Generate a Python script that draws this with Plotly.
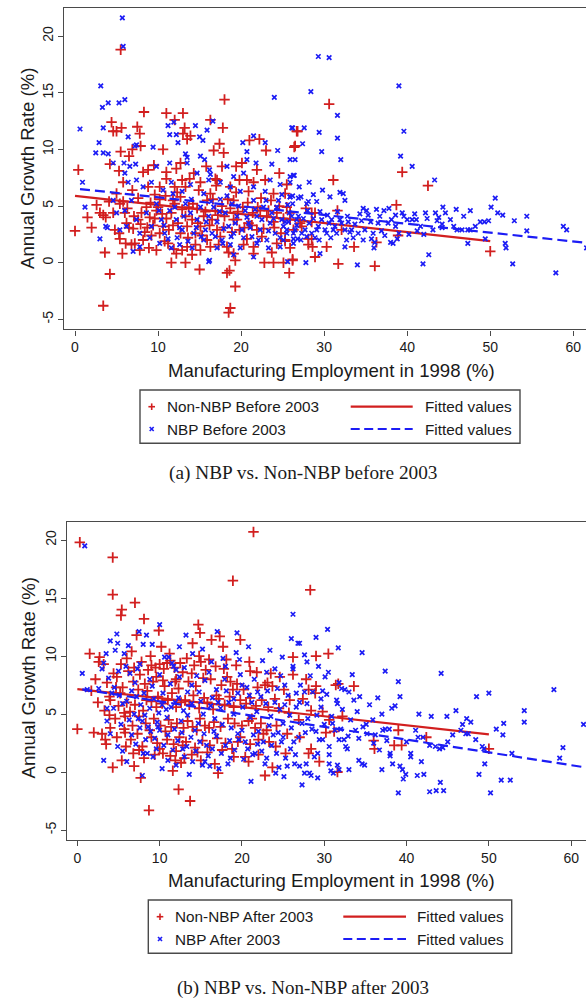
import plotly.graph_objects as go

# ---------------- data ----------------
# Panel (a): before 2003   (x = manufacturing employment 1998 %, y = annual growth %)
nonnbp_before = [
    (0.0, 2.8), (0.4, 8.2), (1.5, 4.0), (2.0, 3.1), (2.6, 5.1), (3.6, 0.9), (4.2, -1.0), (3.4, -3.8),
    (4.4, 12.4), (4.6, 11.6), (5.0, 11.6), (5.5, 18.8), (5.6, 11.9), (4.2, 8.7), (5.3, 8.1), (5.5, 9.8),
    (5.7, 0.8), (5.8, 7.1), (6.5, 9.4), (6.9, 10.0), (7.5, 12.0), (7.8, 11.4), (7.9, 10.3), (8.3, 13.3),
    (8.8, 8.2), (9.5, 8.6), (10.6, 10.0), (11.0, 13.2), (11.0, 8.0), (12.0, 12.6), (13.0, 13.2), (13.2, 11.9),
    (13.0, 11.4), (13.5, 10.9), (13.9, 11.2), (12.7, 8.8), (12.2, 8.3), (12.9, 7.3), (13.8, 7.4), (16.3, 12.6),
    (16.7, 9.9), (17.4, 10.5), (17.9, 9.7), (17.7, 8.5), (18.0, 14.4), (17.8, 11.9), (16.9, 7.4), (17.1, 7.3),
    (19.4, 8.5), (19.8, 7.3), (20.1, 8.8), (21.0, 10.8), (22.2, 10.9), (23.0, 9.9), (21.5, 7.1), (22.9, 7.3),
    (24.6, 7.9), (25.3, 6.1), (25.5, 6.9), (26.4, 10.2), (26.7, 11.6),
    (11.6, 0.0), (13.3, 0.0), (15.0, -0.6), (12.9, 1.1), (11.9, 1.2), (10.8, 1.9), (9.8, 1.1), (7.8, 1.1),
    (8.9, 1.3), (7.2, 1.7), (6.1, 1.7), (5.4, 2.1), (18.3, -0.9), (18.6, -0.7), (19.3, -2.1), (19.3, 0.2),
    (19.1, 0.8), (18.5, 0.9), (22.8, 0.0), (23.9, 0.0), (25.1, 0.0), (25.8, -0.9), (26.2, 0.2), (23.7, 0.9),
    (21.5, 1.4), (20.7, 2.1), (16.3, 1.4), (15.1, 1.1), (14.1, 0.7), (18.5, -4.4), (18.7, -4.0),
    (30.6, 14.0), (26.8, 11.6), (26.5, 10.3), (31.1, 7.3), (39.4, 8.0), (42.5, 6.8), (38.7, 5.1), (31.6, 4.6),
    (38.9, 2.4), (50.0, 1.0), (36.1, -0.3), (31.7, -0.1), (26.2, 0.3), (33.6, 1.4), (30.3, 1.4), (28.9, 0.5),
    (28.6, 1.4), (28.1, 1.6), (28.1, 2.1), (28.5, 2.1), (25.3, 1.9), (26.3, 2.9), (27.1, 3.5), (27.3, 3.2),
    (28.5, 3.6), (28.9, 4.4), (28.5, 4.4), (32.1, 2.9), (36.3, 1.8), (25.9, 4.4), (25.1, 3.9),
    (3.0, 4.4), (3.4, 4.2), (3.7, 4.0), (4.1, 5.4), (5.4, 5.2), (5.8, 5.4), (4.8, 2.9), (5.3, 2.6),
    (6.2, 3.5), (6.5, 3.1), (7.0, 3.0), (7.6, 3.8), (8.0, 4.4), (8.6, 4.9), (9.1, 5.3), (9.8, 4.6),
    (10.2, 2.6), (10.6, 3.2), (11.0, 3.9), (11.6, 4.4), (12.0, 5.2), (12.7, 5.8), (13.3, 6.7), (13.7, 4.9),
    (14.1, 3.8), (13.5, 3.2), (12.7, 2.6), (14.5, 2.6), (15.1, 3.2), (15.5, 4.1), (15.9, 5.5), (16.3, 6.1),
    (16.9, 4.6), (17.1, 2.9), (17.5, 2.3), (18.0, 4.1), (18.7, 4.8), (19.1, 5.5), (19.5, 3.8), (19.8, 2.9),
    (20.2, 4.9), (20.9, 6.3), (21.4, 4.4), (21.9, 2.9), (22.5, 2.3), (23.1, 4.1), (23.6, 5.5), (24.3, 4.4),
    (24.8, 2.6), (25.3, 2.0), (25.9, 3.8),
    (8.2, 8.0), (8.8, 6.7), (10.2, 6.7), (11.0, 7.4), (12.0, 6.7), (14.3, 7.9), (15.1, 7.1), (15.8, 8.5),
    (18.7, 6.7), (20.7, 7.3), (21.9, 8.2), (23.9, 6.1), (25.5, 4.9), (10.2, 5.6), (9.6, 6.0), (6.9, 6.4),
    (7.6, 5.7), (6.0, 4.4), (4.6, 4.4), (5.0, 6.1),
    (6.8, 1.6), (8.2, 2.0), (9.2, 2.4), (11.2, 1.7), (12.2, 0.8), (13.5, 1.4), (14.5, 1.6), (15.9, 2.0),
    (17.3, 1.6), (18.3, 1.4), (20.3, 1.6), (21.5, 0.8), (24.3, 1.7), (25.9, 1.3),
    (9.6, 3.9), (11.8, 3.3), (13.3, 4.1), (14.7, 4.8), (16.5, 3.8), (17.7, 5.0), (19.1, 3.8), (20.9, 3.5),
    (22.3, 4.6), (23.9, 3.6),
    (6.3, 4.8), (7.1, 4.1), (7.9, 3.4), (8.4, 2.7), (9.0, 4.0), (9.4, 3.3), (10.0, 4.9), (10.5, 4.3),
    (11.3, 2.9), (11.8, 5.5), (12.4, 3.5), (12.9, 4.7), (13.6, 2.2), (14.2, 5.2), (14.8, 3.5), (15.3, 2.4),
    (15.7, 4.5), (16.2, 3.3), (16.6, 5.6), (17.2, 4.2), (17.9, 3.1), (18.4, 5.6), (18.9, 2.7), (19.6, 4.5),
    (20.4, 3.1), (20.8, 5.3), (21.3, 3.3), (22.0, 4.9), (22.7, 3.0), (23.3, 4.6), (24.0, 3.1), (24.6, 5.0),
    (12.3, 6.2), (14.9, 6.4), (17.0, 6.8), (19.4, 6.2), (22.4, 5.7), (10.9, 5.9), (8.7, 3.1), (27.8, 4.8),
]

nbp_before = [
    (0.6, 11.8), (0.9, 7.1), (1.2, 4.9), (3.1, 15.6), (3.3, 13.7), (3.4, 11.9), (2.9, 10.6), (2.5, 9.7),
    (3.4, 9.7), (4.0, 9.6), (4.0, 14.1), (5.3, 14.1), (6.0, 14.4), (5.7, 21.6), (5.8, 19.1), (4.6, 8.8),
    (6.4, 11.1), (7.2, 10.3), (7.4, 10.4), (5.9, 8.8), (6.0, 7.9), (6.6, 8.5), (7.3, 8.7), (7.4, 7.3),
    (6.4, 7.1), (9.4, 10.2), (11.2, 12.1), (11.9, 12.4), (11.4, 11.3), (12.2, 11.3), (12.4, 10.6), (11.4, 8.8),
    (13.3, 9.6), (13.5, 9.3), (14.5, 12.1), (15.0, 11.1), (15.4, 10.8), (15.9, 11.7), (16.6, 12.5), (16.2, 8.2),
    (16.3, 7.8), (15.6, 9.1), (20.2, 10.6), (20.7, 9.8), (21.8, 8.8), (21.5, 11.2), (22.9, 10.6), (24.0, 14.6),
    (24.4, 9.9), (23.7, 8.7), (24.7, 6.9), (25.9, 5.8), (26.2, 11.9), (26.3, 7.7), (26.5, 9.1), (26.9, 5.7),
    (16.1, 0.1), (11.6, 1.3), (7.0, 1.0), (16.2, 0.2), (25.6, 0.1),
    (3.0, 2.1), (3.7, 3.2), (3.9, 3.1), (4.6, 5.5), (5.0, 4.4), (5.4, 2.9), (6.0, 4.6), (6.2, 3.2),
    (6.8, 5.5), (7.4, 3.8), (7.8, 2.6), (8.6, 4.4), (9.2, 3.2), (9.8, 5.2), (10.4, 3.8), (10.8, 2.6),
    (11.4, 4.6), (11.8, 6.1), (12.2, 3.8), (12.9, 2.9), (13.3, 5.2), (13.9, 4.4), (14.3, 2.6), (14.7, 3.8),
    (15.1, 4.9), (15.5, 6.1), (15.7, 2.9), (16.1, 4.1), (16.5, 2.6), (16.7, 4.9), (17.1, 3.6), (17.5, 5.6),
    (17.7, 2.0), (18.1, 4.4), (18.5, 3.2), (18.9, 5.2), (19.1, 2.6), (19.5, 4.1), (19.9, 6.3), (20.1, 2.9),
    (20.5, 4.6), (20.9, 3.5), (21.3, 2.3), (21.5, 5.5), (21.9, 4.1), (22.3, 2.9), (22.7, 4.9), (23.1, 2.0),
    (23.5, 3.5), (23.7, 4.4), (24.1, 2.6), (24.5, 5.5), (24.9, 3.8), (25.1, 2.0), (25.5, 2.9), (25.8, 4.4),
    (26.3, 2.6), (26.7, 3.8),
    (8.2, 6.7), (9.2, 7.1), (10.6, 6.4), (11.6, 7.1), (12.9, 6.3), (13.9, 6.9), (14.7, 7.9), (16.1, 7.3),
    (17.5, 7.1), (18.7, 6.7), (19.1, 7.6), (20.3, 7.9), (21.5, 6.7), (22.9, 6.3), (23.5, 7.3), (24.9, 6.0),
    (9.8, 8.5), (13.5, 8.8), (15.1, 9.4), (18.3, 8.5), (20.7, 9.1),
    (7.8, 1.4), (10.2, 1.7), (12.6, 1.6), (14.1, 1.3), (15.5, 2.0), (17.1, 1.3), (18.7, 1.6), (19.9, 1.3),
    (21.9, 1.7), (23.3, 1.3), (24.7, 1.4), (26.3, 1.7), (19.1, 0.7), (21.5, 0.5),
    (29.3, 18.2), (30.6, 18.1), (28.4, 15.1), (31.6, 13.0), (31.6, 11.0), (32.0, 9.1), (26.1, 11.9), (27.6, 11.9),
    (29.4, 11.5), (27.4, 10.5), (29.7, 9.8), (25.9, 9.1), (26.4, 7.7), (28.2, 7.1), (27.0, 6.7), (29.8, 6.4),
    (25.9, 5.8), (26.2, 5.9), (27.9, 5.2), (28.1, 5.4), (29.1, 5.4), (31.9, 6.2), (32.3, 6.1), (26.2, 5.2),
    (39.0, 15.6), (39.6, 11.6), (39.2, 9.4), (40.6, 8.5), (43.3, 7.3), (50.6, 5.7), (50.1, 4.9), (50.9, 4.4),
    (51.5, 4.2), (47.6, 4.6), (48.8, 3.6), (49.3, 3.6), (49.8, 3.7), (44.3, 4.9), (44.6, 4.4), (45.9, 4.7),
    (42.2, 4.4), (42.4, 3.9), (43.4, 4.4), (43.6, 3.7), (44.2, 3.4), (41.1, 3.8), (40.6, 3.8), (40.0, 3.8),
    (39.4, 4.4), (39.6, 4.1), (37.8, 4.8), (37.2, 4.6), (38.6, 4.2), (52.9, 3.7), (54.4, 4.1), (54.4, 2.8),
    (58.8, 3.2), (59.2, 2.9), (61.6, 1.3), (51.8, 1.7), (51.9, 1.3), (52.7, -0.1), (57.9, -0.9), (42.6, 0.7),
    (41.9, -0.1), (34.0, -0.2), (27.8, 0.0), (29.5, 0.8), (41.2, 2.8), (42.0, 2.5), (45.6, 3.2), (46.6, 2.9),
    (47.3, 2.9), (47.6, 2.9), (47.3, 1.7), (49.4, 2.1), (46.0, 2.9), (44.2, 3.1), (43.1, 2.9), (38.0, 1.8),
    (38.3, 1.7), (38.8, 2.1), (36.1, 1.8), (36.0, 1.3), (34.7, 2.0), (33.1, 2.7), (32.5, 1.4), (34.7, 4.8),
    (35.1, 4.6), (34.3, 4.3), (35.3, 4.2), (36.5, 3.5), (36.9, 2.8), (33.7, 3.4), (33.3, 2.9), (30.3, 2.6),
    (30.8, 2.2), (31.1, 2.9), (29.1, 2.9), (28.5, 2.6), (27.9, 2.3), (27.3, 2.6), (26.5, 2.9), (25.5, 2.6),
    (25.1, 3.2), (25.7, 3.6), (26.7, 3.3), (26.9, 4.1), (27.7, 2.9), (28.2, 3.5), (28.7, 3.9), (29.3, 3.2),
    (29.7, 3.8), (30.1, 2.9), (30.6, 3.5), (31.3, 3.2), (31.5, 2.6), (31.9, 3.8), (32.5, 2.9), (32.9, 3.6),
    (27.2, 2.0), (29.4, 2.0), (26.3, 2.1), (32.7, 2.0), (34.1, 2.6), (34.9, 2.9), (35.6, 3.6), (36.7, 4.1),
    (37.7, 3.5), (38.6, 3.2), (35.9, 2.6), (25.9, 7.1), (28.7, 6.0), (30.7, 5.8), (32.5, 5.5), (25.9, 7.6),
    (27.2, 5.8),
    (9.0, 2.2), (10.1, 4.6), (10.7, 3.3), (11.2, 2.1), (12.0, 4.9), (12.6, 3.1), (13.1, 4.1), (13.6, 1.9),
    (14.0, 5.6), (14.6, 3.1), (15.2, 2.3), (15.8, 3.6), (16.4, 5.4), (16.9, 2.3), (17.4, 4.5), (17.9, 3.0),
    (18.3, 5.9), (18.8, 2.3), (19.3, 3.5), (19.7, 5.0), (20.3, 2.2), (20.7, 4.0), (21.1, 3.1), (21.7, 4.7),
    (22.1, 2.0), (22.5, 3.8), (23.0, 5.5), (23.3, 2.8), (23.9, 3.9), (24.3, 4.9), (24.7, 2.2), (25.3, 3.6),
    (25.6, 5.1), (26.1, 4.1), (26.8, 2.1), (27.5, 3.9), (28.0, 4.6), (28.9, 2.2), (29.5, 4.5), (30.4, 4.2),
    (30.9, 3.8), (31.6, 4.5), (32.1, 3.5), (32.8, 4.1), (33.5, 2.2), (34.5, 3.7), (35.7, 2.1), (36.3, 4.7),
    (37.3, 2.4), (38.1, 3.8), (39.0, 2.6), (40.2, 2.5), (40.9, 4.3), (41.6, 3.2), (43.8, 4.0), (45.2, 3.8),
    (46.8, 4.1), (48.2, 3.2), (12.3, 2.2), (17.8, 1.7),
]

# Panel (b): after 2003
nonnbp_after = [
    (0.0, 3.7), (0.3, 19.8), (1.5, 10.2), (2.0, 3.4), (2.7, 9.9), (2.6, 9.5), (3.2, 9.3), (3.4, 2.8),
    (3.5, 2.4), (3.6, 7.7), (4.0, 6.2), (3.9, 6.5), (4.3, 18.5), (4.3, 15.3), (4.3, 0.4), (4.4, 8.5),
    (4.8, 8.2), (5.0, 5.7), (5.3, 13.5), (5.4, 14.0), (5.4, 1.0), (5.7, 5.1), (5.8, 4.8), (5.7, 3.7),
    (5.8, 3.4), (6.2, 8.7), (6.6, 10.4), (7.0, 14.6), (6.8, 7.8), (6.5, 2.8), (6.9, 0.5), (7.2, 11.8),
    (7.4, 7.1), (7.7, -0.5), (7.8, 9.5), (7.9, 2.2), (8.1, 13.2), (8.4, 6.2), (8.6, 8.8), (8.7, -3.3),
    (8.8, 3.6), (9.6, 5.6), (9.9, 12.2), (10.2, 10.8), (10.4, 1.6), (10.9, 9.4), (11.1, 4.5), (11.6, 0.1),
    (11.9, 1.0), (12.3, -1.5), (12.5, 9.4), (12.8, 2.3), (13.1, 6.2), (13.7, -2.5), (14.0, 11.1), (14.5, 3.6),
    (14.7, 12.7), (14.9, 12.0), (14.8, 10.0), (15.4, 6.4), (16.3, 11.4), (17.1, -0.1), (17.3, 11.7), (17.7, 10.8),
    (18.1, 9.7), (18.9, 16.5), (18.9, 7.1), (19.4, 7.6), (19.8, 11.4), (19.8, 3.0), (20.4, 1.3), (21.4, 20.7),
    (21.0, 8.7), (21.8, 8.6), (21.2, 4.6), (22.8, -0.3), (22.8, 7.5), (23.1, 7.7), (23.7, 0.4), (23.7, 7.4),
    (24.6, 8.2), (25.1, 7.1), (26.2, 9.9), (26.2, 8.4), (25.5, 3.3), (25.3, 1.6), (24.1, 2.2),
    (28.3, 15.7), (29.0, 10.0), (30.5, 10.2), (28.1, 7.1), (28.9, 6.8), (29.0, 7.4), (31.4, 7.5), (31.7, 7.6),
    (33.6, 7.4), (28.4, 5.3), (32.2, 4.8), (25.7, 5.1), (30.2, 3.4), (31.2, 3.5), (28.4, 2.0), (28.1, 1.6),
    (29.4, 0.9), (31.6, 0.0), (36.0, 2.7), (36.1, 2.0), (38.5, 2.3), (39.4, 2.3), (39.0, 3.6), (42.4, 3.0),
    (50.0, 2.0),
    (9.0, 9.2), (9.5, 9.0), (10.0, 9.3), (10.5, 8.9), (11.3, 9.6), (11.8, 9.0), (12.0, 8.0), (9.2, 7.8),
    (10.6, 7.4), (11.5, 6.8), (12.3, 7.2), (13.5, 7.8), (13.9, 8.5), (14.2, 9.2), (15.0, 9.5), (15.6, 8.8),
    (16.2, 8.0), (16.8, 9.1), (17.5, 7.5), (18.2, 8.2), (9.0, 6.1), (9.8, 6.5), (10.3, 5.9), (11.0, 6.2),
    (12.0, 5.6), (12.6, 6.0), (13.6, 5.8), (14.1, 6.6), (14.8, 5.5), (15.8, 6.0), (16.5, 5.4), (17.2, 6.3),
    (17.9, 5.8), (18.5, 6.5), (19.0, 5.6), (19.8, 6.2), (20.5, 5.9), (21.0, 6.4), (21.7, 5.7), (22.4, 6.2),
    (23.2, 5.6), (24.0, 6.3), (9.3, 4.6), (10.1, 4.0), (10.7, 3.5), (11.4, 3.9), (12.1, 4.2), (12.9, 3.8),
    (13.4, 4.4), (14.0, 3.9), (14.9, 4.6), (15.5, 4.0), (16.0, 3.8), (16.6, 4.3), (17.4, 3.9), (18.3, 4.6),
    (19.1, 4.2), (20.0, 4.0), (20.8, 4.4), (21.6, 3.8), (22.3, 4.2), (23.0, 3.6), (24.2, 4.0), (9.7, 2.5),
    (10.9, 2.8), (11.7, 2.4), (12.4, 3.0), (13.2, 2.6), (14.3, 2.1), (15.2, 2.7), (16.1, 2.3), (17.0, 2.9),
    (18.0, 2.5), (18.8, 2.0), (19.5, 2.6), (21.0, 2.4), (22.0, 2.8), (23.3, 2.6), (6.0, 6.0), (6.4, 5.2),
    (7.0, 5.8), (7.5, 4.8), (8.0, 5.3), (8.3, 4.2), (7.3, 3.3), (6.7, 4.0), (5.2, 6.8), (4.6, 4.6),
    (4.0, 3.8), (3.3, 5.3), (2.5, 6.0), (1.7, 7.0), (2.2, 8.0), (5.5, 7.3), (8.5, 7.0), (9.0, 3.0),
    (13.0, 1.2), (15.0, 1.0), (16.7, 0.7), (14.6, 1.7), (12.0, 1.8), (20.8, 0.9), (22.0, 1.5), (24.5, 5.5),
    (25.8, 6.2), (26.9, 4.5), (27.4, 6.3), (27.0, 3.0), (29.8, 5.2), (30.6, 4.5), (27.8, 8.0),
    (3.9, 4.9), (4.7, 7.3), (5.3, 9.3), (6.0, 9.8), (6.9, 9.0), (7.6, 8.4), (8.2, 7.6), (8.9, 10.0),
    (9.6, 8.2), (10.4, 7.9), (11.2, 10.2), (11.9, 7.8), (12.8, 8.6), (13.3, 9.8), (14.4, 7.4), (15.3, 8.1),
    (16.0, 9.7), (16.9, 6.6), (17.8, 8.9), (18.6, 7.8), (19.3, 9.2), (20.2, 7.1), (20.9, 9.5), (21.9, 7.3),
    (23.5, 8.5), (5.9, 2.2), (6.8, 1.6), (7.5, 1.9), (8.1, 1.2), (9.4, 1.5), (10.0, 2.0), (11.3, 1.4),
    (12.6, 0.8), (13.9, 1.5), (15.8, 1.7), (17.6, 1.9), (19.0, 1.3), (4.8, 3.0), (3.0, 3.3), (22.6, 3.3),
]

nbp_after = [
    (0.9, 19.5), (0.6, 8.5), (1.2, 7.1), (2.6, 7.2), (3.2, 9.4), (3.5, 10.2), (3.2, 1.0), (4.0, 11.3),
    (4.8, 11.9), (4.9, 11.1), (4.6, 10.5), (5.7, 10.2), (5.9, 9.1), (3.6, 5.5), (3.6, 4.4), (4.0, 3.3),
    (4.9, 2.2), (6.4, 8.5), (7.0, 7.7), (7.5, 12.1), (7.3, 8.9), (8.0, 11.0), (8.4, 11.8), (9.1, 11.0),
    (10.0, 12.7), (7.9, -0.3), (8.0, 1.6), (8.5, 1.6), (9.2, 1.3), (9.6, 2.0), (10.6, 9.9), (11.1, 9.9),
    (11.5, 9.4), (11.7, 9.1), (12.4, 10.8), (13.2, 11.8), (14.0, 10.2), (13.6, -0.2), (15.2, 0.6), (16.1, 0.5),
    (17.0, 12.1), (17.7, 9.8), (19.4, 12.0), (19.7, 9.7), (19.8, 8.4), (21.1, -0.8), (21.6, 1.6), (22.8, 0.7),
    (24.1, -0.1), (24.5, 0.4), (25.1, -0.4), (24.0, 8.9), (24.7, 8.3), (26.2, 13.6), (26.2, 9.1), (26.8, 11.1),
    (30.4, 12.3), (29.0, 11.6), (27.0, 11.1), (31.7, 10.7), (34.6, 10.3), (27.6, 10.1), (27.9, 9.5), (29.3, 9.1),
    (26.2, 8.9), (30.5, 8.6), (30.1, 8.2), (33.4, 8.4), (37.4, 8.7), (44.2, 8.5), (39.0, 7.8), (39.2, 6.5),
    (38.6, 5.7), (38.2, 5.5), (31.8, 7.7), (32.1, 7.2), (32.5, 7.1), (29.8, 7.0), (27.6, 6.9), (28.6, 6.9),
    (33.6, 6.2), (31.5, 6.2), (31.6, 5.9), (29.6, 6.3), (27.0, 6.0), (27.9, 5.9), (48.5, 6.5), (50.0, 6.8),
    (57.9, 7.1), (54.3, 5.3), (54.3, 4.3), (51.8, 4.2), (50.9, 3.7), (51.7, 3.2), (46.8, 4.1), (47.3, 4.6),
    (47.8, 4.3), (44.9, 4.8), (45.6, 3.2), (44.0, 2.0), (44.4, 2.1), (43.5, 2.2), (42.8, 2.3), (42.0, 3.0),
    (41.4, 3.0), (41.1, 3.6), (46.6, 3.6), (47.2, 3.3), (47.5, 3.3), (48.4, 2.8), (49.2, 2.2), (49.4, 2.0),
    (49.5, 0.7), (48.8, -0.2), (50.2, -1.8), (51.5, -0.7), (52.6, -0.7), (52.8, 1.6), (58.6, 1.2), (59.0, 2.1),
    (61.5, 4.1), (42.8, -1.7), (43.6, -1.6), (44.5, -1.6), (44.1, -0.9), (39.0, -1.8), (39.6, -0.6), (39.9, -0.2),
    (41.3, -0.3), (42.1, -0.2), (41.8, 0.9), (40.5, 1.6), (40.5, 1.3), (39.2, 0.5), (39.5, 0.2), (38.3, 0.7),
    (38.0, 1.6), (38.0, 1.4), (37.0, 0.2), (34.2, 1.0), (34.6, 0.7), (34.9, 0.6), (33.0, 0.2), (31.8, 0.2),
    (31.6, 0.6), (30.6, 0.7), (30.8, 0.1), (31.1, -0.1), (29.2, -0.5), (28.4, -0.3), (27.6, -0.1), (28.2, -0.1),
    (27.3, -1.1), (30.6, 1.5), (30.6, 2.2), (32.6, 2.2), (32.8, 2.0), (31.8, 2.8), (32.4, 2.8), (32.9, 3.1),
    (34.2, 2.9), (34.7, 3.9), (35.1, 4.1), (35.9, 4.5), (37.1, 3.6), (37.4, 3.7), (37.9, 3.7), (36.0, 2.5),
    (31.3, 3.6), (32.0, 3.7), (29.4, 2.8), (29.8, 2.8), (28.8, 1.3), (29.2, 1.6), (27.8, 0.7), (26.4, 0.7),
    (27.0, 0.5), (25.5, 0.5),
    (3.0, 8.9), (3.8, 8.1), (4.2, 6.8), (4.5, 7.3), (5.1, 6.6), (5.5, 5.9), (6.0, 6.1), (6.3, 4.5),
    (6.9, 5.0), (7.2, 6.5), (7.7, 5.8), (8.2, 4.9), (8.8, 5.5), (9.3, 6.3), (9.9, 5.1), (10.4, 6.8),
    (10.8, 5.4), (11.3, 7.6), (11.9, 6.0), (12.4, 8.2), (12.9, 5.3), (13.4, 6.9), (13.9, 7.5), (14.5, 8.3),
    (15.0, 6.1), (15.5, 7.9), (16.0, 8.6), (16.4, 6.4), (16.9, 7.1), (17.4, 5.5), (17.9, 8.0), (18.4, 6.0),
    (19.0, 5.0), (19.5, 6.8), (20.1, 5.6), (20.6, 7.3), (21.2, 6.0), (21.8, 5.2), (22.3, 6.5), (22.9, 5.9),
    (23.5, 4.8), (24.0, 6.0), (24.6, 5.4), (25.2, 5.8), (25.8, 4.9), (6.6, 3.2), (7.1, 2.4), (7.6, 3.8),
    (8.3, 2.8), (8.9, 3.5), (9.4, 2.9), (10.0, 3.6), (10.5, 2.3), (11.0, 3.2), (11.6, 1.9), (12.2, 2.7),
    (12.7, 3.4), (13.3, 2.2), (13.8, 3.0), (14.4, 1.8), (14.9, 2.6), (15.4, 3.3), (15.9, 1.4), (16.4, 2.0),
    (16.9, 3.1), (17.5, 1.6), (18.0, 2.3), (18.6, 1.2), (19.1, 1.9), (19.6, 2.8), (20.2, 1.1), (20.7, 2.0),
    (21.3, 1.5), (21.9, 2.4), (22.4, 1.8), (23.0, 1.2), (23.6, 2.3), (24.2, 1.6), (24.8, 2.6), (25.3, 1.2),
    (25.9, 2.0), (26.5, 1.5), (26.9, 3.0), (18.3, 0.7), (17.2, 0.3), (14.0, 0.9), (12.0, 0.6), (10.3, 0.3),
    (11.0, 1.0), (5.5, 1.8), (6.0, 0.9), (20.0, 3.6), (22.0, 3.5), (24.4, 3.4), (26.0, 3.8), (26.6, 5.6),
    (27.3, 4.2), (28.0, 4.6), (28.5, 3.7), (29.1, 4.9), (30.0, 4.1), (30.9, 4.8), (33.2, 4.5), (34.0, 5.2),
    (35.5, 5.8), (36.5, 6.4), (37.0, 5.0), (36.2, 3.2), (33.8, 3.6), (12.6, 4.4), (14.7, 4.2), (16.7, 4.6),
    (18.7, 3.8), (9.7, 4.3), (7.9, 4.4), (21.0, 4.7), (23.3, 4.0), (25.0, 3.0), (19.3, 10.3), (22.5, 9.6),
    (18.0, 9.1), (16.3, 9.5), (15.2, 10.6), (13.0, 9.0), (12.0, 8.8), (21.5, 8.0), (23.0, 8.6), (10.0, 8.4),
    (8.8, 8.0), (7.6, 9.3), (6.2, 10.9), (5.0, 8.7), (24.9, 9.9), (23.4, 10.5), (20.8, 10.8), (26.0, 11.5),
    (25.2, 7.5), (26.6, 6.8),
    (4.4, 5.5), (5.3, 4.1), (6.6, 7.0), (7.4, 4.6), (8.1, 6.8), (8.6, 3.9), (9.1, 7.4), (9.8, 3.9),
    (10.3, 5.8), (10.9, 4.7), (11.4, 5.6), (11.8, 3.7), (12.3, 6.4), (12.8, 2.0), (13.4, 4.9), (13.9, 5.9),
    (14.3, 3.6), (14.8, 6.9), (15.3, 5.0), (15.7, 2.3), (16.2, 5.7), (16.6, 3.5), (17.1, 6.0), (17.6, 4.1),
    (18.1, 7.0), (18.5, 2.7), (19.0, 6.3), (19.5, 3.3), (20.0, 7.5), (20.4, 2.6), (20.9, 6.6), (21.4, 3.2),
    (21.9, 6.9), (22.6, 2.6), (23.1, 7.0), (23.8, 3.2), (24.3, 7.2), (25.0, 4.2), (25.6, 6.6), (26.3, 2.6),
    (27.1, 7.5), (27.7, 3.4), (28.3, 8.3), (29.0, 3.5), (29.6, 5.6), (30.3, 6.7), (31.0, 4.2), (32.2, 5.4),
    (33.0, 6.9), (34.3, 6.5), (35.2, 3.3), (36.7, 1.9), (37.6, 2.7), (40.0, 2.6), (41.5, 5.0), (43.0, 4.8),
    (45.0, 2.6), (46.0, 5.3), (13.0, 1.3), (15.5, 0.9),
]

# fitted (linear) values: end points of each fitted line
fit_a_red_x, fit_a_red_y = [0.0, 50.0], [5.9, 1.9]
fit_a_blue_x, fit_a_blue_y = [0.6, 63.0], [6.5, 1.64]
fit_b_red_x, fit_b_red_y = [0.0, 50.0], [7.15, 3.25]
fit_b_blue_x, fit_b_blue_y = [0.6, 63.0], [7.13, 0.26]

x_ticks = [0, 10, 20, 30, 40, 50, 60]
y_ticks = [-5, 0, 5, 10, 15, 20]
y_tick_text = ["-5", "0", "5", "10", "15", "20"]
x_title = "Manufacturing Employment in 1998 (%)"
y_title = "Annual Growth Rate (%)"
legend_a = ["Non-NBP Before 2003", "NBP Before 2003", "Fitted values", "Fitted values"]
legend_b = ["Non-NBP After 2003", "NBP After 2003", "Fitted values", "Fitted values"]
caption_a = "(a) NBP vs. Non-NBP before 2003"
caption_b = "(b) NBP vs. Non-NBP after 2003"

# ---------------- style ----------------
W, H = 586, 999
RED = "#d21f1f"
BLUE = "#1c1cf5"
FRAME = "#4a4a4a"
TXT = "#1a1a1a"
SANS = "Liberation Sans, Arial, Helvetica, sans-serif"
SERIF = "Liberation Serif, Times New Roman, serif"


def px(x):
    return x / W


def py(y):
    return 1 - y / H


fig = go.Figure()


def add_panel(red, blue, fr, fb, xa, ya):
    fig.add_trace(go.Scatter(
        x=[p[0] for p in red], y=[p[1] for p in red], mode="markers",
        marker=dict(symbol="cross-thin", size=7.5, color=RED, line=dict(width=1.8, color=RED)),
        xaxis=xa, yaxis=ya, showlegend=False, hoverinfo="skip"))
    fig.add_trace(go.Scatter(
        x=fr[0], y=fr[1], mode="lines", line=dict(color=RED, width=2.2),
        xaxis=xa, yaxis=ya, showlegend=False, hoverinfo="skip"))
    fig.add_trace(go.Scatter(
        x=[p[0] for p in blue], y=[p[1] for p in blue], mode="markers",
        marker=dict(symbol="x-thin", size=4.5, color=BLUE, line=dict(width=1.7, color=BLUE)),
        xaxis=xa, yaxis=ya, showlegend=False, hoverinfo="skip"))
    fig.add_trace(go.Scatter(
        x=fb[0], y=fb[1], mode="lines", line=dict(color=BLUE, width=2.2, dash="10px,5px"),
        xaxis=xa, yaxis=ya, showlegend=False, hoverinfo="skip"))


add_panel(nonnbp_before, nbp_before, (fit_a_red_x, fit_a_red_y), (fit_a_blue_x, fit_a_blue_y), "x", "y")
add_panel(nonnbp_after, nbp_after, (fit_b_red_x, fit_b_red_y), (fit_b_blue_x, fit_b_blue_y), "x2", "y2")

axis_common = dict(
    showline=True, linecolor=FRAME, linewidth=1.4, ticks="outside", ticklen=5, tickwidth=1.4,
    tickcolor=FRAME, showgrid=False, zeroline=False, automargin=False,
    tickfont=dict(family=SANS, size=14, color=TXT),
)

fig.update_layout(
    width=W, height=H, autosize=False,
    margin=dict(l=0, r=0, t=0, b=0),
    paper_bgcolor="white", plot_bgcolor="white",
    xaxis=dict(domain=[px(64.3), 1.0], range=[-1.29, 61.53], anchor="y", mirror=True,
               tickvals=x_ticks, **axis_common),
    yaxis=dict(domain=[py(329.3), py(8)], range=[-5.88, 22.48], anchor="x",
               tickvals=y_ticks, ticktext=y_tick_text, tickangle=-90, **axis_common),
    xaxis2=dict(domain=[px(67.3), 1.0], range=[-1.22, 61.8], anchor="y2", mirror=True,
                tickvals=x_ticks, **axis_common),
    yaxis2=dict(domain=[py(840), py(521.7)], range=[-5.86, 21.58], anchor="x2",
                tickvals=y_ticks, ticktext=y_tick_text, tickangle=-90, **axis_common),
)

annotations = []
shapes = []


def text(x, y, s, size, family=SANS, anchor="left", angle=0):
    annotations.append(dict(
        x=px(x), y=py(y), xref="paper", yref="paper", text=s, showarrow=False,
        xanchor=anchor, yanchor="middle", textangle=angle,
        font=dict(family=family, size=size, color=TXT)))


def seg(x0, y0, x1, y1, color, width, dash="solid"):
    shapes.append(dict(type="line", xref="paper", yref="paper",
                       x0=px(x0), y0=py(y0), x1=px(x1), y1=py(y1),
                       line=dict(color=color, width=width, dash=dash)))


def legend(box, rows, mark_x, text_x, line_x, fit_x, labels):
    x0, x1, y0, y1 = box
    shapes.append(dict(type="rect", xref="paper", yref="paper",
                       x0=px(x0), x1=px(x1), y0=py(y1), y1=py(y0),
                       line=dict(color=FRAME, width=1.4), fillcolor="rgba(0,0,0,0)"))
    r1, r2 = rows
    # plus glyph
    seg(mark_x - 3.3, r1, mark_x + 3.3, r1, RED, 1.6)
    seg(mark_x, r1 - 3.3, mark_x, r1 + 3.3, RED, 1.6)
    # x glyph
    seg(mark_x - 2.0, r2 - 2.0, mark_x + 2.0, r2 + 2.0, BLUE, 1.6)
    seg(mark_x - 2.0, r2 + 2.0, mark_x + 2.0, r2 - 2.0, BLUE, 1.6)
    text(text_x, r1, labels[0], 15.3)
    text(text_x, r2, labels[1], 15.3)
    seg(line_x[0], r1, line_x[1], r1, RED, 2.2)
    seg(line_x[0], r2, line_x[1], r2, BLUE, 2.2, dash="9px,4.5px")
    text(fit_x, r1, labels[2], 15.3)
    text(fit_x, r2, labels[3], 15.3)


# axis titles
text(331.5, 370.7, x_title, 18.6, anchor="center")
text(331.3, 880.7, x_title, 18.6, anchor="center")
text(27.5, 168.5, y_title, 18.6, anchor="center", angle=-90)
text(27.5, 678.0, y_title, 18.6, anchor="center", angle=-90)

legend((140, 520, 390, 443.3), (406.7, 429), 151.7, 165, (350.7, 412.7), 423.3, legend_a)
legend((148.3, 511.7, 900, 953.3), (916.7, 939), 160, 173.3, (343.3, 406), 415, legend_b)

text(302.5, 473.3, caption_a, 19.3, family=SERIF, anchor="center")
text(303.3, 987.5, caption_b, 19.0, family=SERIF, anchor="center")

fig.update_layout(annotations=annotations, shapes=shapes)

fig.write_html("out.html", config={"displayModeBar": False})
